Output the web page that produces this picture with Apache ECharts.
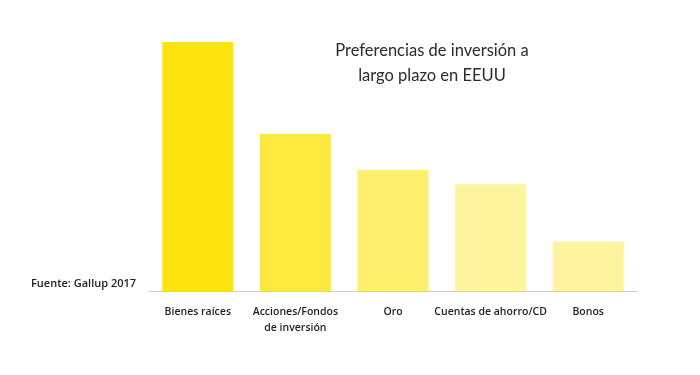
<!DOCTYPE html>
<html><head><meta charset="utf-8">
<script src="https://cdn.jsdelivr.net/npm/echarts@6/dist/echarts.min.js"></script>
<style>html,body{margin:0;padding:0;background:#fff}#c{width:700px;height:375px}</style>
</head><body><div id="c"></div>
<script>
const categories = ["Bienes raíces", "Acciones/Fondos\nde inversión", "Oro", "Cuentas de ahorro/CD", "Bonos"];
const values = [42, 26.5, 20.4, 18, 8.4];
const barColors = ["#FFE30F", "#FDE93E", "#FEEF6E", "#FDF59D", "#FEF49F"];
const titleText = "Preferencias de inversión a\nlargo plazo en EEUU";
const sourceText = "Fuente: Gallup 2017";

const chart = echarts.init(document.getElementById('c'), null, {renderer: 'canvas'});
chart.setOption({
  animation: false,
  backgroundColor: '#fff',
  title: {
    text: titleText, left: 427, top: 33, textAlign: 'center',
    textStyle: {fontFamily: 'Lato', fontWeight: 'normal', fontSize: 16.5, color: '#2b2b2b', lineHeight: 25}
  },
  graphic: [{
    type: 'text', left: 31, top: 278,
    style: {text: sourceText, fontFamily: 'Open Sans', fontWeight: 600, fontSize: 11, fill: '#222'}
  }],
  grid: {left: 149, right: 63, top: 42, bottom: 84, containLabel: false},
  xAxis: {
    type: 'category', data: categories,
    axisLine: {show: true, lineStyle: {color: '#cccccc', width: 1}},
    axisTick: {show: false},
    axisLabel: {margin: 13, fontFamily: 'Open Sans', fontWeight: 600, fontSize: 10.5, color: '#1e1e1e', lineHeight: 16, interval: 0}
  },
  yAxis: {type: 'value', min: 0, max: 42, show: false, splitLine: {show: false}},
  series: [{
    type: 'bar', barWidth: 71,
    data: values.map((v, i) => ({value: v, itemStyle: {color: barColors[i]}}))
  }]
});
</script></body></html>
